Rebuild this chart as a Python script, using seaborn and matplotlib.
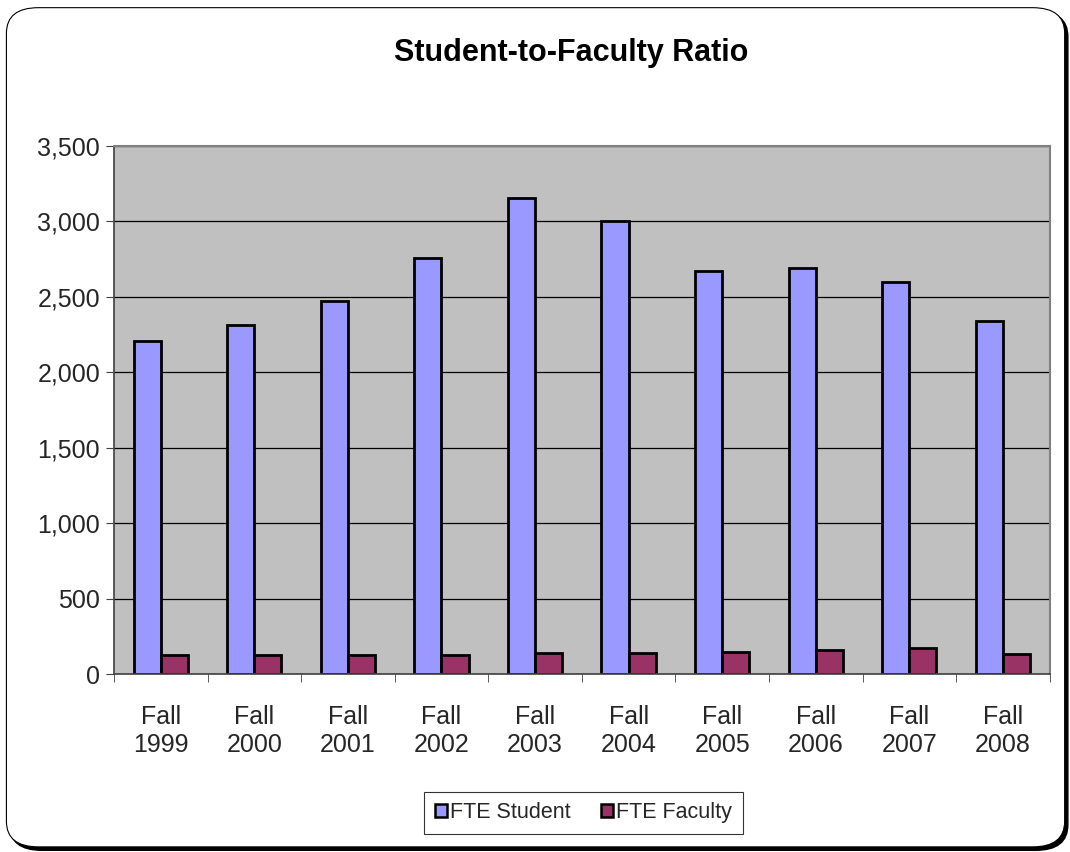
import pandas as pd
import numpy as np
import matplotlib.pyplot as plt
import seaborn as sns
from matplotlib.patches import FancyBboxPatch, Patch

# Values
terms = ['Fall\n1999', 'Fall\n2000', 'Fall\n2001', 'Fall\n2002', 'Fall\n2003',
         'Fall\n2004', 'Fall\n2005', 'Fall\n2006', 'Fall\n2007', 'Fall\n2008']
fte_student = [2210, 2311, 2475, 2761, 3157, 3003, 2671, 2690, 2600, 2337]
fte_faculty = [125, 125, 128, 123, 137, 140, 147, 159, 173, 135]
series_names = ['FTE Student', 'FTE Faculty']
y_ticks = [0, 500, 1000, 1500, 2000, 2500, 3000, 3500]

student_col = '#9999ff'
faculty_col = '#993366'

df = pd.DataFrame({
    'term': terms * 2,
    'value': fte_student + fte_faculty,
    'series': [series_names[0]] * len(terms) + [series_names[1]] * len(terms),
})

sns.set_style('white')
plt.rcParams['font.family'] = ['Liberation Sans', 'DejaVu Sans']

fig = plt.figure(figsize=(10.7, 8.52), dpi=100)

# Rounded chart border with a shadow on the bottom/right
shadow = FancyBboxPatch((0.009, 0.002), 0.989, 0.985, boxstyle='round,pad=0,rounding_size=0.03',
                        transform=fig.transFigure, facecolor='black', edgecolor='black', zorder=-2)
frame = FancyBboxPatch((0.006, 0.006), 0.989, 0.985, boxstyle='round,pad=0,rounding_size=0.03',
                       transform=fig.transFigure, facecolor='white', edgecolor='black',
                       linewidth=0.8, zorder=-1)
fig.patches.extend([shadow, frame])

ax = fig.add_axes([0.1065, 0.2089, 0.8745, 0.6197])
ax.set_zorder(1)
ax.set_facecolor('#c0c0c0')

sns.barplot(data=df, x='term', y='value', hue='series',
            palette=[student_col, faculty_col], width=0.58,
            edgecolor='black', linewidth=2, saturation=1, legend=False, ax=ax)

ax.set_ylim(0, 3500)
ax.set_xlim(-0.5, len(terms) - 0.5)
ax.set_yticks(y_ticks)
ax.set_yticklabels([f'{v:,}' for v in y_ticks], fontsize=18)
ax.yaxis.grid(True, color='black', linewidth=0.9)
ax.set_axisbelow(True)

# Excel style ticks between categories
ax.set_xticks(np.arange(-0.5, len(terms), 1.0), minor=True)
ax.tick_params(axis='x', which='major', length=0, labelsize=18, pad=22)
ax.tick_params(axis='x', which='minor', length=6, direction='out', color='#404040', bottom=True)
ax.tick_params(axis='y', length=6, direction='out', color='#404040', left=True, pad=4)
for lbl in ax.get_xticklabels():
    lbl.set_multialignment('center')
    lbl.set_linespacing(1.25)

for side in ['left', 'bottom']:
    ax.spines[side].set_color('#404040')
    ax.spines[side].set_linewidth(1.2)
for side in ['top', 'right']:
    ax.spines[side].set_color('#808080')
    ax.spines[side].set_linewidth(1.5)

ax.set_xlabel('')
ax.set_ylabel('')

fig.text(0.5336, 0.938, 'Student-to-Faculty Ratio', ha='center', va='center',
         fontsize=22, fontweight='bold', color='black')

handles = [Patch(facecolor=student_col, edgecolor='black', linewidth=1.8, label=series_names[0]),
           Patch(facecolor=faculty_col, edgecolor='black', linewidth=1.8, label=series_names[1])]
leg = fig.legend(handles=handles, loc='center', bbox_to_anchor=(0.5453, 0.0458), ncol=2,
                 fontsize=15.5, frameon=True, fancybox=False, edgecolor='black',
                 handlelength=0.55, handleheight=0.55, handletextpad=0.15, columnspacing=1.4,
                 borderpad=0.5, borderaxespad=0)
leg.get_frame().set_linewidth(0.8)

fig.savefig('out.png', dpi=100)
